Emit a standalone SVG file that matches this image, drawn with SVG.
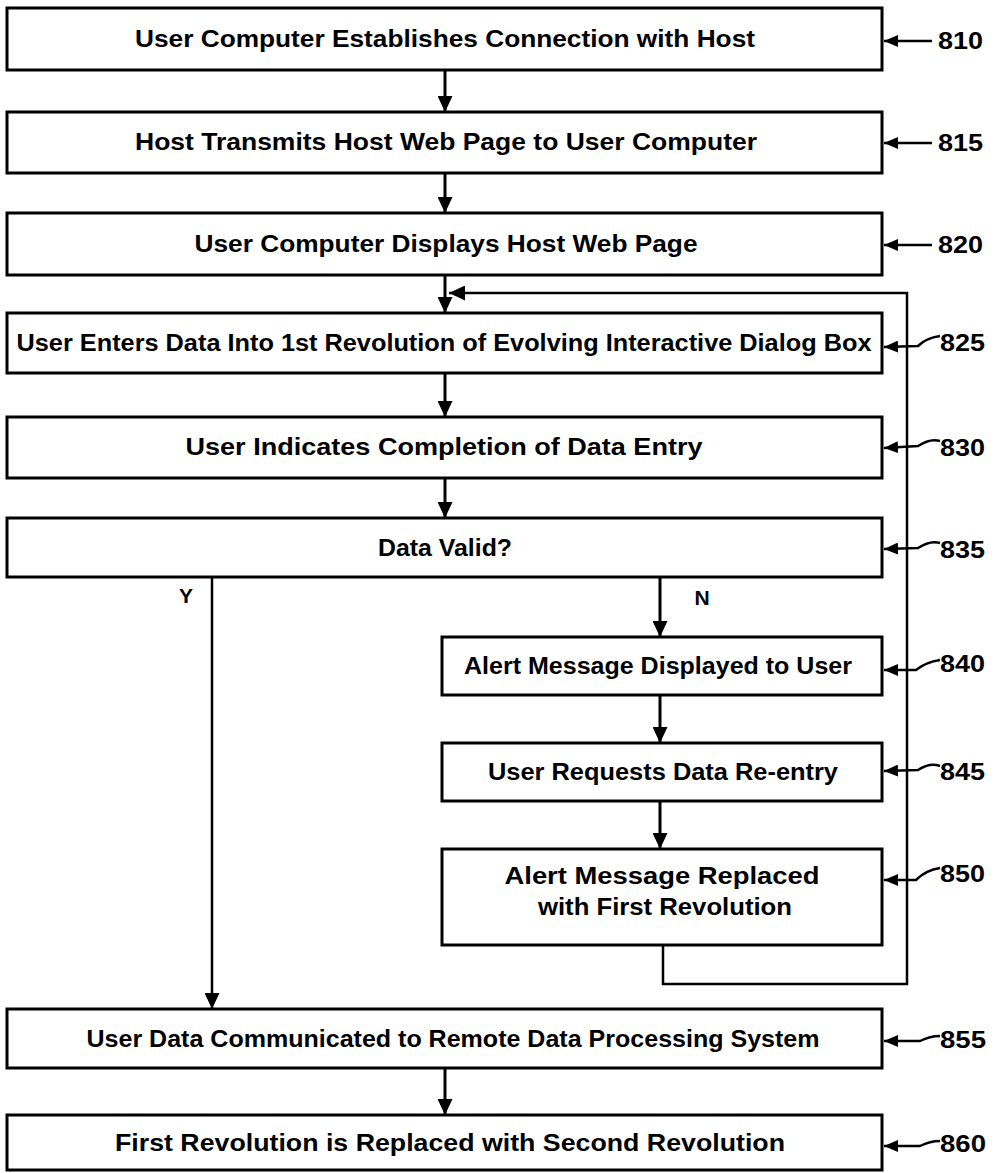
<svg xmlns="http://www.w3.org/2000/svg" width="994" height="1173" viewBox="0 0 994 1173">
<style>
.box{fill:#fff;stroke:#000;stroke-width:3}
.t{font-family:"Liberation Sans",Arial,sans-serif;font-weight:bold;font-size:23px;fill:#000;text-anchor:middle;dominant-baseline:central}
.n{font-family:"Liberation Sans",Arial,sans-serif;font-weight:bold;font-size:24px;fill:#000;dominant-baseline:central}
.yn{font-family:"Liberation Sans",Arial,sans-serif;font-weight:bold;font-size:21px;fill:#000;text-anchor:middle;dominant-baseline:central}
.c{fill:none;stroke:#000;stroke-width:3}
.l{fill:none;stroke:#000;stroke-width:2.5}
</style>
<defs>
<marker id="ah" markerUnits="userSpaceOnUse" markerWidth="16" markerHeight="15" refX="16" refY="7.5" orient="auto">
<path d="M0,0 L16,7.5 L0,15 z" fill="#000"/>
</marker>
<marker id="lh" markerUnits="userSpaceOnUse" markerWidth="14" markerHeight="12" refX="14" refY="6" orient="auto">
<path d="M0,0 L14,6 L0,12 z" fill="#000"/>
</marker>
</defs>
<rect width="994" height="1173" fill="#fff"/>

<g id="connectors">
<path class="c" d="M445,70 V112" marker-end="url(#ah)"/>
<path class="c" d="M445,173 V213" marker-end="url(#ah)"/>
<path class="c" d="M445,275 V313" marker-end="url(#ah)"/>
<path class="c" d="M445,373 V417" marker-end="url(#ah)"/>
<path class="c" d="M445,478 V518" marker-end="url(#ah)"/>
<path class="c" d="M660,577 V637" marker-end="url(#ah)"/>
<path class="c" d="M660,695 V743" marker-end="url(#ah)"/>
<path class="c" d="M660,801 V849" marker-end="url(#ah)"/>
<path class="l" d="M212,577 V1009" marker-end="url(#ah)"/>
<path class="c" d="M445,1068 V1115" marker-end="url(#ah)"/>
<path class="l" d="M663,945 V984 H907 V293 H449" marker-end="url(#ah)"/>
<text class="yn" x="186" y="595">Y</text>
<text class="yn" x="702" y="597">N</text>
</g>

<g id="node810">
<rect class="box" x="7" y="8" width="875" height="62"/>
<text class="t" x="445" y="39" textLength="620" lengthAdjust="spacingAndGlyphs">User Computer Establishes Connection with Host</text>
<path class="l" d="M932,41 L884,41" marker-end="url(#lh)"/>
<text class="n" x="938" y="40" textLength="45" lengthAdjust="spacingAndGlyphs">810</text>
</g>

<g id="node815">
<rect class="box" x="7" y="112" width="875" height="61"/>
<text class="t" x="446" y="142" textLength="622" lengthAdjust="spacingAndGlyphs">Host Transmits Host Web Page to User Computer</text>
<path class="l" d="M932,143 L884,143" marker-end="url(#lh)"/>
<text class="n" x="938" y="142" textLength="45" lengthAdjust="spacingAndGlyphs">815</text>
</g>

<g id="node820">
<rect class="box" x="7" y="213" width="875" height="62"/>
<text class="t" x="446" y="244" textLength="503" lengthAdjust="spacingAndGlyphs">User Computer Displays Host Web Page</text>
<path class="l" d="M932,245 L884,245" marker-end="url(#lh)"/>
<text class="n" x="938" y="244" textLength="45" lengthAdjust="spacingAndGlyphs">820</text>
</g>

<g id="node825">
<rect class="box" x="7" y="313" width="875" height="60"/>
<text class="t" x="444" y="343" textLength="855" lengthAdjust="spacingAndGlyphs">User Enters Data Into 1st Revolution of Evolving Interactive Dialog Box</text>
<path class="l" d="M940,336 Q926,338 918,346 L884,347" marker-end="url(#lh)"/>
<text class="n" x="940" y="342" textLength="45" lengthAdjust="spacingAndGlyphs">825</text>
</g>

<g id="node830">
<rect class="box" x="7" y="417" width="875" height="61"/>
<text class="t" x="444" y="447" textLength="517" lengthAdjust="spacingAndGlyphs">User Indicates Completion of Data Entry</text>
<path class="l" d="M940,441 Q930,438 918,446 L884,448" marker-end="url(#lh)"/>
<text class="n" x="940" y="447" textLength="45" lengthAdjust="spacingAndGlyphs">830</text>
</g>

<g id="node835">
<rect class="box" x="7" y="518" width="875" height="59"/>
<text class="t" x="445" y="548" textLength="134" lengthAdjust="spacingAndGlyphs">Data Valid?</text>
<path class="l" d="M940,543 Q930,540 918,548 L884,549" marker-end="url(#lh)"/>
<text class="n" x="940" y="549" textLength="45" lengthAdjust="spacingAndGlyphs">835</text>
</g>

<g id="node840">
<rect class="box" x="442" y="637" width="440" height="58"/>
<text class="t" x="658" y="666" textLength="388" lengthAdjust="spacingAndGlyphs">Alert Message Displayed to User</text>
<path class="l" d="M940,660 Q926,662 916,670 L884,670" marker-end="url(#lh)"/>
<text class="n" x="940" y="663" textLength="45" lengthAdjust="spacingAndGlyphs">840</text>
</g>

<g id="node845">
<rect class="box" x="442" y="743" width="440" height="58"/>
<text class="t" x="663" y="772" textLength="350" lengthAdjust="spacingAndGlyphs">User Requests Data Re-entry</text>
<path class="l" d="M940,766 Q930,762 918,770 L884,771" marker-end="url(#lh)"/>
<text class="n" x="940" y="771" textLength="45" lengthAdjust="spacingAndGlyphs">845</text>
</g>

<g id="node850">
<rect class="box" x="442" y="849" width="440" height="96"/>
<text class="t" x="662" y="876" textLength="315" lengthAdjust="spacingAndGlyphs">Alert Message Replaced</text>
<text class="t" x="665" y="907" textLength="254" lengthAdjust="spacingAndGlyphs">with First Revolution</text>
<path class="l" d="M940,868 Q926,870 916,880 L884,880" marker-end="url(#lh)"/>
<text class="n" x="940" y="873" textLength="45" lengthAdjust="spacingAndGlyphs">850</text>
</g>

<g id="node855">
<rect class="box" x="7" y="1009" width="875" height="59"/>
<text class="t" x="453" y="1039" textLength="733" lengthAdjust="spacingAndGlyphs">User Data Communicated to Remote Data Processing System</text>
<path class="l" d="M940,1036 Q930,1036 920,1041 L884,1041" marker-end="url(#lh)"/>
<text class="n" x="940" y="1039" textLength="46" lengthAdjust="spacingAndGlyphs">855</text>
</g>

<g id="node860">
<rect class="box" x="7" y="1115" width="875" height="55"/>
<text class="t" x="450" y="1143" textLength="670" lengthAdjust="spacingAndGlyphs">First Revolution is Replaced with Second Revolution</text>
<path class="l" d="M940,1141 Q930,1141 920,1146 L884,1146" marker-end="url(#lh)"/>
<text class="n" x="940" y="1143" textLength="46" lengthAdjust="spacingAndGlyphs">860</text>
</g>
</svg>
